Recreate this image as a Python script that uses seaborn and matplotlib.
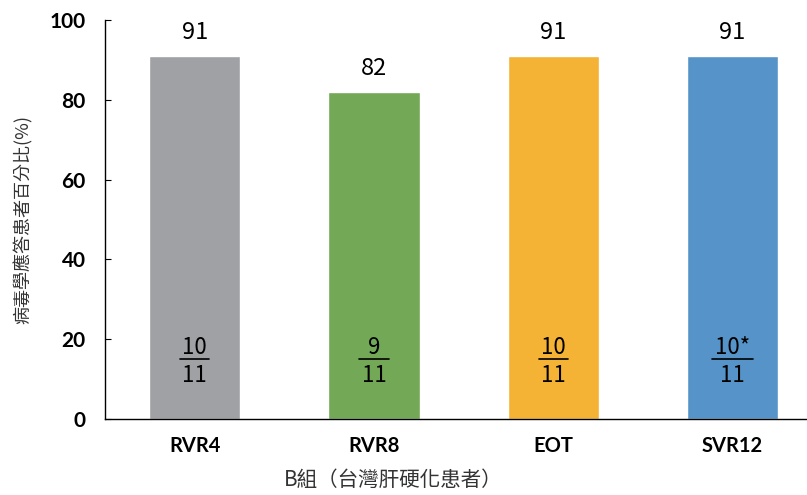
import numpy as np
import pandas as pd
import matplotlib
matplotlib.use('Agg')
import matplotlib.pyplot as plt
import seaborn as sns

# data
categories = ['RVR4', 'RVR8', 'EOT', 'SVR12']
percent = [91, 82, 91, 91]
numerators = ['10', '9', '10', '10*']
denominators = ['11', '11', '11', '11']
colors = ['#A0A1A5', '#72A856', '#F5B335', '#5593C8']

sns.set_style('ticks')
plt.rcParams['font.family'] = ['Noto Sans CJK TC', 'DejaVu Sans']

df = pd.DataFrame({'cat': categories, 'pct': percent})

fig = plt.figure(figsize=(8.07, 4.95), dpi=100)
ax = fig.add_axes([0.1301, 0.1535, 0.8699, 0.8061])

sns.barplot(data=df, x='cat', y='pct', hue='cat', palette=colors,
            width=0.51, legend=False, ax=ax, saturation=1)

ax.set_ylim(0, 100)
ax.set_xlim(-0.5, 3.415)
ax.set_yticks([0, 20, 40, 60, 80, 100])

for i, v in enumerate(percent):
    ax.text(i, v + 3.0, str(v), ha='center', va='bottom', fontsize=17,
            fontweight='medium', color='black')
    ax.text(i, 18.0, numerators[i], ha='center', va='center', fontsize=16,
            fontweight='medium', color='black')
    ax.text(i, 11.0, denominators[i], ha='center', va='center', fontsize=16,
            fontweight='medium', color='black')
    w = 0.082 if len(numerators[i]) < 3 else 0.115
    ax.plot([i - w, i + w], [15.0, 15.0], color='black', lw=1.2)

ax.set_ylabel('病毒學應答患者百分比(%)', fontsize=13, color='#333333')
ax.set_xlabel('B組（台灣肝硬化患者）', fontsize=14.8, color='#333333')
ax.yaxis.set_label_coords(-0.1026, 0.5)
ax.xaxis.set_label_coords(0.41, -0.125)

for lab in ax.get_yticklabels():
    lab.set_fontfamily('Lato')
    lab.set_fontweight('bold')
    lab.set_fontsize(15)
for lab in ax.get_xticklabels():
    lab.set_fontfamily('Lato')
    lab.set_fontweight('bold')
    lab.set_fontsize(14.5)

ax.tick_params(axis='x', length=0, pad=12, colors='black')
ax.tick_params(axis='y', direction='in', length=4, width=0.8, pad=14, colors='black')
sns.despine(ax=ax)
ax.spines['left'].set_color('black')
ax.spines['bottom'].set_color('black')
ax.spines['left'].set_linewidth(1)
ax.spines['bottom'].set_linewidth(1)

fig.savefig('out.png', dpi=100)
